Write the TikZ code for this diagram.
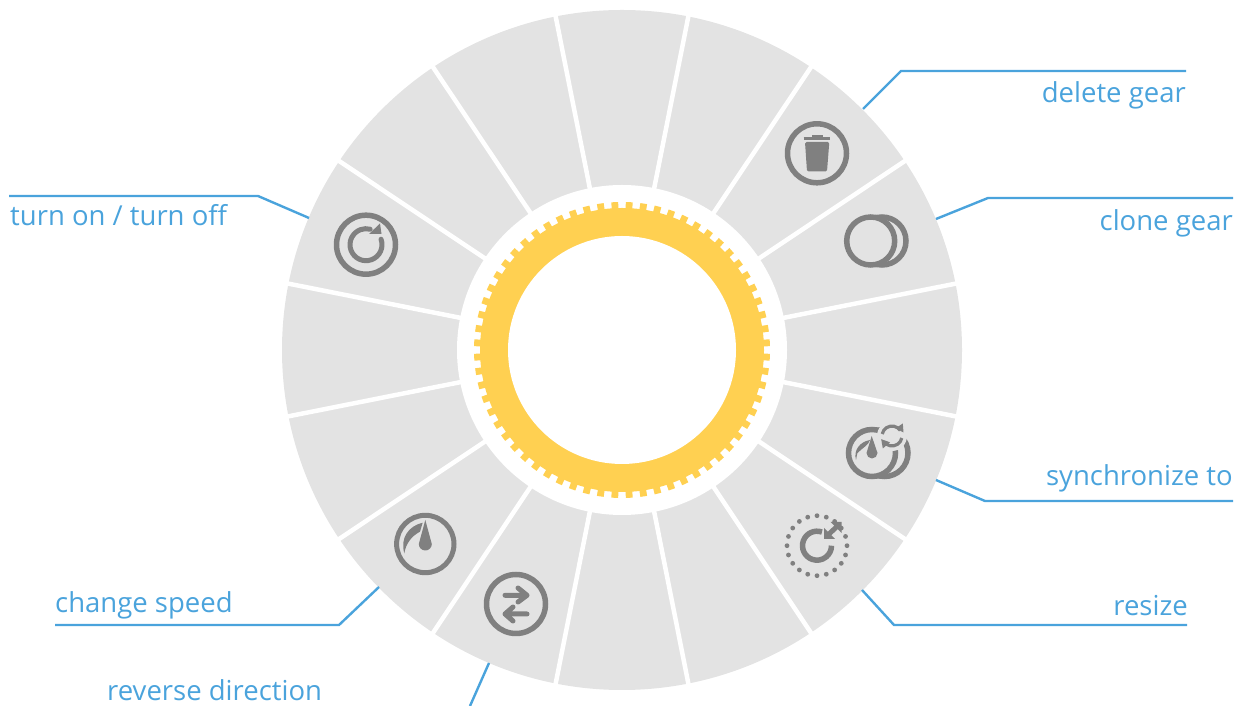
\documentclass[tikz,border=0pt]{standalone}
\usepackage{fontspec}
\setmainfont{Open Sans}
\definecolor{sectorgray}{HTML}{E3E3E3}
\definecolor{icongray}{HTML}{808080}
\definecolor{gearyellow}{HTML}{FFD051}
\definecolor{leaderblue}{HTML}{4AA3DC}
\tikzset{
	iconline/.style={draw=icongray, line width=5.5},
	leader/.style={draw=leaderblue, line width=2.4},
	gearlabel/.style={text=leaderblue, font=\fontsize{27.5}{32}\selectfont, inner sep=0pt}
}

\begin{document}
\begin{tikzpicture}[x=1pt, y=1pt]
	\useasboundingbox (0, 0) rectangle (1245, 706);

	% wheel
	\fill[sectorgray] (622, 356) circle (340);
	\foreach \ang in {11.25, 33.75, ..., 348.75} {
		\draw[white, line width=4.5] (622, 356) -- ++(\ang:345);
	}
	\fill[white] (622, 356) circle (165);

	% gear
	\fill[gearyellow] (622, 356) circle (142);
	\foreach \ang in {0, 1, ..., 63} {
		\fill[gearyellow, rotate around={\ang*5.625+2.8125:(622, 356)}] (760, 352.6) rectangle (770, 359.4);
	}
	\fill[white] (622, 356) circle (114);

	% leaders
	\coordinate (deletestart) at (863, 597);
	\coordinate (deletebend) at (901, 635);
	\coordinate (deleteend) at (1186, 635);
	\coordinate (clonestart) at (936, 487);
	\coordinate (clonebend) at (988, 508);
	\coordinate (cloneend) at (1233, 508);
	\coordinate (syncstart) at (936, 226);
	\coordinate (syncbend) at (985, 205);
	\coordinate (syncend) at (1233, 205);
	\coordinate (resizestart) at (862, 116);
	\coordinate (resizebend) at (894, 81);
	\coordinate (resizeend) at (1187, 81);
	\coordinate (turnstart) at (309, 488);
	\coordinate (turnbend) at (258, 510);
	\coordinate (turnend) at (9, 510);
	\coordinate (speedstart) at (379, 119);
	\coordinate (speedbend) at (339, 81);
	\coordinate (speedend) at (55, 81);
	\coordinate (reversestart) at (489, 43);
	\coordinate (reverseend) at (470, 0);
	\draw[leader] (deletestart) -- (deletebend) -- (deleteend);
	\draw[leader] (clonestart) -- (clonebend) -- (cloneend);
	\draw[leader] (syncstart) -- (syncbend) -- (syncend);
	\draw[leader] (resizestart) -- (resizebend) -- (resizeend);
	\draw[leader] (turnstart) -- (turnbend) -- (turnend);
	\draw[leader] (speedstart) -- (speedbend) -- (speedend);
	\draw[leader] (reversestart) -- (reverseend);

	% labels
	\node[gearlabel, anchor=base east] (deletelabel) at (1186, 603) {delete gear};
	\node[gearlabel, anchor=base east] (clonelabel) at (1233, 475) {clone gear};
	\node[gearlabel, anchor=base east] (synclabel) at (1233, 220) {synchronize to};
	\node[gearlabel, anchor=base east] (resizelabel) at (1188, 90) {resize};
	\node[gearlabel, anchor=base west] (turnlabel) at (10, 480) {turn on / turn off};
	\node[gearlabel, anchor=base west] (speedlabel) at (55, 93) {change speed};
	\node[gearlabel, anchor=base west] (reverselabel) at (107, 5) {reverse direction};

	% delete icon
	\draw[iconline] (817, 552.7) circle (29.5);
	\draw[icongray, line width=3] (803.7, 567) -- (830, 567);
	\fill[icongray] (811.5, 567) rectangle (822.5, 571);
	\fill[icongray, rounded corners=1.5] (805, 564) -- (829.3, 564) -- (827, 534.5) -- (807, 534.5) -- cycle;

	% clone icon
	\draw[iconline] (882, 465) circle (24);
	\draw[iconline, fill=sectorgray] (870.7, 465) circle (24);

	% synchronize icon
	\draw[iconline] (884.5, 253) circle (23.5);
	\draw[iconline, fill=sectorgray] (872, 253) circle (23.5);
	\fill[sectorgray] (892, 270) circle (15);
	\draw[icongray, line width=3.2] (882.2, 272) arc (168:35:10);
	\draw[icongray, line width=3.2] (901.8, 268) arc (-12:-145:10);
	\fill[icongray] (902.8, 282.5) -- (903.5, 273.5) -- (895.7, 277.7) -- cycle;
	\fill[icongray] (882.8, 257.5) -- (881.2, 266.8) -- (890, 263.7) -- cycle;
	\fill[icongray] (871.7, 270) -- (877.5, 253) arc (0:-180:5.5) -- cycle;
	\fill[icongray] (856, 246) .. controls (853.3, 256) and (860, 264.3) .. (870, 266) .. controls (869, 261) and (861.7, 257.7) .. (857.3, 252.7) -- cycle;

	% resize icon
	\foreach \ang in {0, 18, ..., 342} {
		\fill[icongray] (817, 160.3) ++(\ang:30) circle (2.4);
	}
	\draw[iconline] (817, 160.3) ++(70:14.5) arc (70:360:14.5);
	\draw[icongray, line width=5] (828, 171) -- (838, 180.5);
	\fill[icongray] (841.5, 184) -- (830.5, 184) -- (841.5, 173) -- cycle;
	\fill[icongray] (824, 167) -- (824, 178) -- (835, 167) -- cycle;

	% reverse icon
	\draw[iconline] (516, 102) circle (29.5);
	\draw[icongray, line width=5, line cap=round, line join=round] (505, 110.7) -- (527, 110.7) (518, 118) -- (527, 110.7) -- (518, 104);
	\draw[icongray, line width=5, line cap=round, line join=round] (527, 92) -- (505, 92) (513, 99) -- (505, 92) -- (513, 85);

	% speed icon
	\draw[icongray, line width=5] (425.3, 162) circle (28.7);
	\fill[icongray] (425.3, 186) -- (431.8, 162) arc (0:-180:6.5) -- cycle;
	\fill[icongray] (404.3, 152.7) .. controls (400, 167.7) and (408.3, 180) .. (422.7, 183.3) -- (420, 174.3) .. controls (411.7, 170) and (406, 162.7) .. (404.3, 152.7) -- cycle;

	% turn on icon
	\draw[iconline] (366, 461.3) circle (29.5);
	\draw[icongray, line width=5, line cap=round] (366, 461.3) ++(20:16) arc (20:-285:16);
	\fill[icongray] (369, 472) -- (381.5, 472) -- (380, 482.5) -- cycle;
\end{tikzpicture}
\end{document}
